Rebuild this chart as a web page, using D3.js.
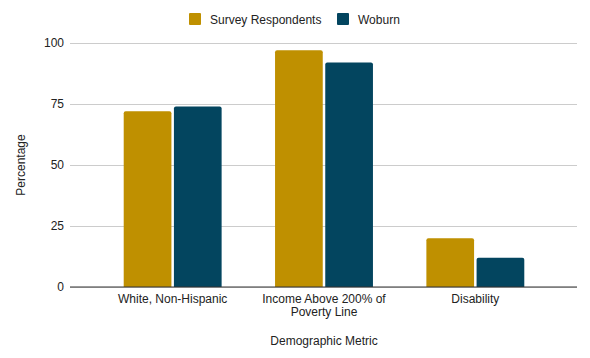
<!DOCTYPE html>
<html>
<head>
<meta charset="utf-8">
<script src="https://cdn.jsdelivr.net/npm/d3@7"></script>
<style>
  body { margin: 0; background: #fff; }
  text { font-family: "Liberation Sans", Arial, sans-serif; fill: #222; }
</style>
</head>
<body>
<svg id="chart"></svg>
<script>
const categories = ["White, Non-Hispanic", "Income Above 200% of Poverty Line", "Disability"];
const seriesNames = ["Survey Respondents", "Woburn"];
const surveyValues = [72, 97, 20];
const woburnValues = [74, 92, 12];
const yTicks = [0, 25, 50, 75, 100];
const colors = ["#bf9000", "#03455f"];

const width = 590, height = 358;
const svg = d3.select("#chart").attr("width", width).attr("height", height);

// table built from the arrays
const rows = categories.map((c, i) => ({cat: c, values: [surveyValues[i], woburnValues[i]]}));

const y = d3.scaleLinear().domain([0, 100]).range([287, 43]);
const x0 = d3.scaleBand().domain(categories).range([97, 551])
  .paddingInner(0.353).paddingOuter(0.1765);
const x1 = d3.scaleBand().domain(seriesNames).range([0, x0.bandwidth()]).paddingInner(0.05);
const color = d3.scaleOrdinal(seriesNames, colors);

// gridlines + y labels
const yAxis = svg.append("g")
  .attr("transform", "translate(70,0)")
  .call(d3.axisLeft(y).tickValues(yTicks).tickSize(-507).tickPadding(6));
yAxis.select(".domain").remove();
yAxis.selectAll(".tick line").attr("stroke", "#cccccc");
yAxis.selectAll(".tick text").attr("font-size", 12).attr("fill", "#222");

// bars with rounded tops
function topRounded(x, yTop, w, h, r) {
  r = Math.min(r, h, w / 2);
  return `M${x},${yTop + h}V${yTop + r}Q${x},${yTop} ${x + r},${yTop}H${x + w - r}Q${x + w},${yTop} ${x + w},${yTop + r}V${yTop + h}Z`;
}

svg.append("g").selectAll("g")
  .data(rows)
  .join("g")
  .attr("transform", d => `translate(${x0(d.cat)},0)`)
  .selectAll("path")
  .data(d => d.values.map((v, i) => ({name: seriesNames[i], value: v})))
  .join("path")
  .attr("fill", d => color(d.name))
  .attr("d", d => topRounded(x1(d.name), y(d.value), x1.bandwidth(), y(0) - y(d.value), 2));

// baseline
svg.append("line")
  .attr("x1", 70).attr("x2", 577)
  .attr("y1", y(0)).attr("y2", y(0))
  .attr("stroke", "#333").attr("stroke-width", 1);

// category labels (wrapped)
const wrapLines = {
  "Income Above 200% of Poverty Line": ["Income Above 200% of", "Poverty Line"]
};
const catLabels = svg.append("g").selectAll("text")
  .data(categories)
  .join("text")
  .attr("x", d => x0(d) + x0.bandwidth() / 2)
  .attr("y", 303)
  .attr("text-anchor", "middle")
  .attr("font-size", 12);
catLabels.each(function(d) {
  const lines = wrapLines[d] || [d];
  d3.select(this).selectAll("tspan")
    .data(lines)
    .join("tspan")
    .attr("x", x0(d) + x0.bandwidth() / 2)
    .attr("dy", (l, i) => i === 0 ? 0 : 13)
    .text(l => l);
});

// axis titles
svg.append("text")
  .attr("x", 324).attr("y", 345)
  .attr("text-anchor", "middle")
  .attr("font-size", 12)
  .text("Demographic Metric");

svg.append("text")
  .attr("transform", "translate(25,165) rotate(-90)")
  .attr("text-anchor", "middle")
  .attr("font-size", 12)
  .text("Percentage");

// legend
const legendX = [189, 337];
const legend = svg.append("g").selectAll("g")
  .data(seriesNames)
  .join("g")
  .attr("transform", (d, i) => `translate(${legendX[i]},13)`);
legend.append("rect")
  .attr("width", 12).attr("height", 12).attr("rx", 1)
  .attr("fill", d => color(d));
legend.append("text")
  .attr("x", 21).attr("y", 10.5)
  .attr("font-size", 12)
  .text(d => d);
</script>
</body>
</html>
